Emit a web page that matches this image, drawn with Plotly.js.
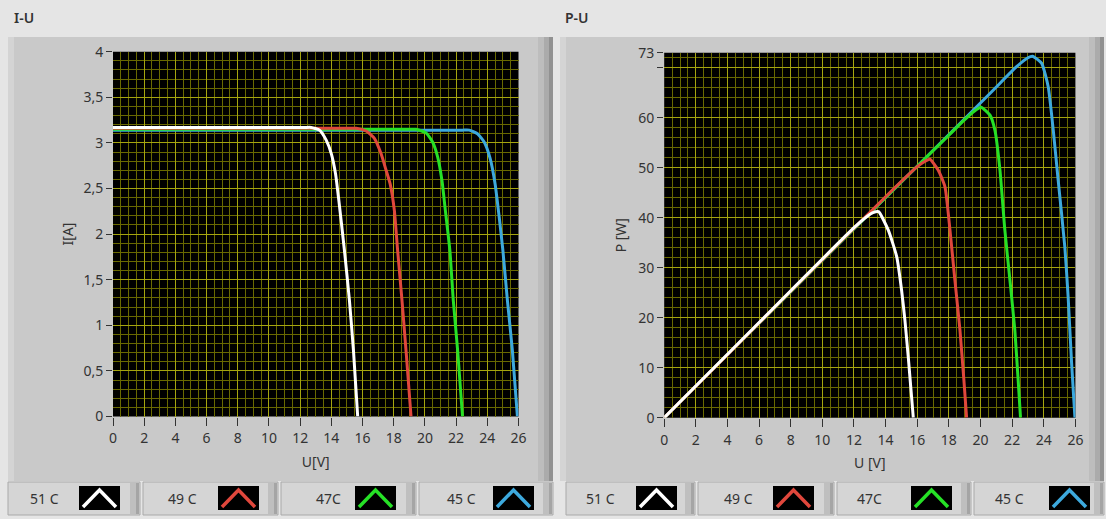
<!DOCTYPE html>
<html>
<head>
<meta charset="utf-8">
<script src="https://cdn.plot.ly/plotly-3.0.1.min.js"></script>
<style>
html,body{margin:0;padding:0;background:#e5e5e5;}
#chart{width:1106px;height:519px;}
</style>
</head>
<body>
<div id="chart"></div>
<script>
// ---------------- DATA ----------------
const seriesNames = ["51 C", "49 C", "47C", "45 C"];
const seriesColors = ["#ffffff", "#e0473c", "#26e126", "#3da9dd"];

// I-U curves (U in V, I in A)
const iu51U = [0, 4, 8, 12, 12.35, 12.71, 13.24, 13.67, 14.0, 14.27, 14.48, 14.84, 15.16, 15.42, 15.69];
const iu51I = [3.17, 3.17, 3.17, 3.17, 3.17, 3.17, 3.14, 3.03, 2.88, 2.66, 2.37, 1.82, 1.27, 0.72, 0];
const iu49U = [0, 4, 8, 12, 15.2, 15.6, 16.23, 16.76, 17.19, 17.51, 17.77, 18.04, 18.25, 18.53, 18.79, 19.11];
const iu49I = [3.16, 3.16, 3.16, 3.16, 3.16, 3.16, 3.13, 3.05, 2.88, 2.70, 2.55, 2.26, 1.82, 1.27, 0.72, 0];
const iu47U = [0, 4, 8, 12, 16, 19.0, 19.43, 20.07, 20.49, 20.81, 21.09, 21.31, 21.6, 21.82, 22.1, 22.41];
const iu47I = [3.15, 3.15, 3.15, 3.15, 3.15, 3.15, 3.15, 3.11, 3.01, 2.85, 2.59, 2.26, 1.82, 1.27, 0.72, 0];
const iu45U = [0, 4, 8, 12, 16, 20, 22.4, 22.84, 23.37, 23.8, 24.18, 24.5, 24.76, 25.0, 25.29, 25.61, 25.93];
const iu45I = [3.14, 3.14, 3.14, 3.14, 3.14, 3.14, 3.14, 3.14, 3.10, 3.01, 2.83, 2.55, 2.19, 1.82, 1.27, 0.72, 0];

// P-U curves (U in V, P in W)
const pu51U = [0, 4, 8, 12, 12.8, 13.2, 13.55, 14.17, 14.7, 15.01, 15.22, 15.43, 15.64, 15.75];
const pu51P = [0, 12.7, 25.4, 38.0, 40.2, 41.0, 41.2, 37.5, 32.2, 25.5, 19.5, 12.2, 4.2, 0];
const pu49U = [0, 4, 8, 12, 14, 16, 16.5, 16.8, 17.33, 17.75, 18.07, 18.38, 18.7, 18.95, 19.12];
const pu49P = [0, 12.6, 25.3, 37.9, 44.2, 50.2, 51.3, 51.7, 49.5, 46.2, 37.5, 27.5, 17.5, 7.5, 0];
const pu47U = [0, 4, 8, 12, 16, 18, 19, 19.6, 20.03, 20.6, 20.91, 21.23, 21.54, 21.86, 22.17, 22.38, 22.53];
const pu47P = [0, 12.6, 25.2, 37.8, 50.3, 56.5, 59.6, 61.3, 62.1, 60.5, 57.5, 49.5, 37.5, 27.5, 17.5, 7.5, 0];
const pu45U = [0, 4, 8, 12, 16, 20.8, 22.28, 23.0, 23.29, 23.86, 24.28, 24.6, 24.91, 25.33, 25.54, 25.76, 25.97];
const pu45P = [0, 12.6, 25.2, 37.8, 50.3, 65.5, 70.2, 72.0, 72.3, 70.9, 66.2, 57.5, 47.5, 34.2, 24.2, 10.9, 0];

const xTickStep = 2;
const iuYTickStep = 0.5;
const puYTickVals = [0, 10, 20, 30, 40, 50, 60, 70, 73];
const puYTickText = ["0", "10", "20", "30", "40", "50", "60", "", "73"];

// ---------------- LAYOUT HELPERS ----------------
const W = 1106, H = 519;
const X = p => p / W;
const Y = p => 1 - p / H;
const FONT = "Noto Sans, DejaVu Sans, sans-serif";

const iuSeries = [[iu51U, iu51I], [iu49U, iu49I], [iu47U, iu47I], [iu45U, iu45I]];
const puSeries = [[pu51U, pu51P], [pu49U, pu49P], [pu47U, pu47P], [pu45U, pu45P]];

const traces = [];
// draw 45C first so 51C lies on top
for (let i = 3; i >= 0; i--) {
  traces.push({x: iuSeries[i][0], y: iuSeries[i][1], xaxis: "x", yaxis: "y", type: "scatter", mode: "lines",
    name: seriesNames[i], line: {color: seriesColors[i], width: 3, shape: "spline", smoothing: 0.5},
    showlegend: false, hoverinfo: "skip"});
}
for (let i = 3; i >= 0; i--) {
  traces.push({x: puSeries[i][0], y: puSeries[i][1], xaxis: "x2", yaxis: "y2", type: "scatter", mode: "lines",
    name: seriesNames[i], line: {color: seriesColors[i], width: 3, shape: "spline", smoothing: 0.5},
    showlegend: false, hoverinfo: "skip"});
}

const shapes = [];
const annotations = [];
function rect(x0, y0, x1, y1, fill, line) {
  shapes.push({type: "rect", xref: "paper", yref: "paper", x0: X(x0), x1: X(x1), y0: Y(y1), y1: Y(y0),
    fillcolor: fill, line: line || {width: 0}, layer: "below"});
}
function text(x, y, t, size, color, anchor, weight) {
  annotations.push({xref: "paper", yref: "paper", x: X(x), y: Y(y), text: t, showarrow: false,
    xanchor: anchor || "left", yanchor: "middle", font: {family: FONT, size: size, color: color, weight: weight || 400}});
}

// panels
rect(8, 37, 553, 481, "#c9c9c9");
rect(8, 37, 14, 481, "#d4d4d4");
rect(538, 37, 544, 481, "#bdbdbd");
rect(544, 37, 549, 481, "#ababab");
rect(549, 37, 553, 481, "#919191");
rect(560, 37, 1104, 481, "#c9c9c9");
rect(560, 37, 566, 481, "#d4d4d4");
rect(1089, 37, 1095, 481, "#bdbdbd");
rect(1095, 37, 1100, 481, "#ababab");
rect(1100, 37, 1104, 481, "#919191");

// plot areas (black)
rect(113, 51.7, 518.5, 416.5, "#000000");
rect(664.2, 52.7, 1075.4, 417.7, "#000000");

// legend rows
const legendBoxes = [
  {x0: 8, x1: 140, lx: 28, sx: 79},
  {x0: 143, x1: 278, lx: 166, sx: 218},
  {x0: 281, x1: 416, lx: 314, sx: 355},
  {x0: 419, x1: 553, lx: 445, sx: 493},
  {x0: 566, x1: 695, lx: 584, sx: 636},
  {x0: 698, x1: 834, lx: 722, sx: 773},
  {x0: 837, x1: 971, lx: 855, sx: 911},
  {x0: 974, x1: 1104, lx: 993, sx: 1049}
];
legendBoxes.forEach((b, k) => {
  const i = k % 4;
  rect(b.x0, 482, b.x1, 515, "#d5d5d5", {color: "#a9a9a9", width: 1});
  rect(b.x1 - 10, 483, b.x1 - 1, 514, "#bfbfbf");
  rect(b.x1 - 4, 483, b.x1 - 1, 514, "#a5a5a5");
  rect(b.sx, 486, b.sx + 41, 510, "#000000");
  shapes.push({type: "path", xref: "paper", yref: "paper", layer: "below",
    path: `M ${X(b.sx + 4)},${Y(507)} L ${X(b.sx + 20.5)},${Y(490)} L ${X(b.sx + 37)},${Y(507)}`,
    line: {color: seriesColors[i], width: 3.5}});
  text(b.lx, 498.5, seriesNames[i], 14, "#333333", "left");
});

// chart titles
text(12, 18, "I-U", 14, "#333333", "left", 600);
text(563, 18, "P-U", 14, "#333333", "left", 600);

const majorGrid = "rgb(165,165,15)";
const minorGrid = "rgb(105,105,0)";
const tickFont = {family: FONT, size: 14, color: "#333333"};
const titleFont = {family: FONT, size: 14, color: "#333333"};

function xAxis(domain, anchor, title) {
  return {domain: domain, anchor: anchor, range: [0, 26], tickmode: "linear", tick0: 0, dtick: xTickStep,
    showgrid: true, gridcolor: majorGrid, gridwidth: 1, zeroline: false, showline: false,
    ticks: "outside", ticklen: 8, tickcolor: "#333333", tickwidth: 1, tickfont: tickFont, ticklabelstandoff: 1,
    minor: {tickmode: "linear", tick0: 0, dtick: 0.5, showgrid: true, gridcolor: minorGrid, gridwidth: 1, ticks: ""},
    title: {text: title, font: titleFont, standoff: 10}, automargin: false, fixedrange: true};
}

const layout = {
  width: W, height: H,
  margin: {l: 0, r: 0, t: 0, b: 0, pad: 0},
  paper_bgcolor: "#e5e5e5",
  plot_bgcolor: "rgba(0,0,0,0)",
  separators: ", ",
  showlegend: false,
  font: {family: FONT, color: "#333333"},
  xaxis: xAxis([X(113), X(518.5)], "y", "U[V]"),
  yaxis: {domain: [Y(416.5), Y(51.7)], anchor: "x", range: [0, 4], tickmode: "linear", tick0: 0, dtick: iuYTickStep,
    showgrid: true, gridcolor: majorGrid, gridwidth: 1, zeroline: false, showline: false,
    ticks: "outside", ticklen: 6, tickcolor: "#333333", tickfont: tickFont,
    minor: {tickmode: "linear", tick0: 0, dtick: 0.1, showgrid: true, gridcolor: minorGrid, gridwidth: 1, ticks: ""},
    title: {text: "I[A]", font: titleFont, standoff: 6}, automargin: false, fixedrange: true},
  xaxis2: xAxis([X(664.2), X(1075.4)], "y2", "U [V]"),
  yaxis2: {domain: [Y(417.7), Y(52.7)], anchor: "x2", range: [0, 73], tickmode: "array",
    tickvals: puYTickVals, ticktext: puYTickText,
    showgrid: true, gridcolor: majorGrid, gridwidth: 1, zeroline: false, showline: false,
    ticks: "outside", ticklen: 6, tickcolor: "#333333", tickfont: tickFont,
    minor: {tickmode: "linear", tick0: 0, dtick: 2, showgrid: true, gridcolor: minorGrid, gridwidth: 1, ticks: ""},
    title: {text: "P [W]", font: titleFont, standoff: 8}, automargin: false, fixedrange: true},
  shapes: shapes,
  annotations: annotations
};

Plotly.newPlot("chart", traces, layout, {staticPlot: true, displayModeBar: false});
</script>
</body>
</html>
